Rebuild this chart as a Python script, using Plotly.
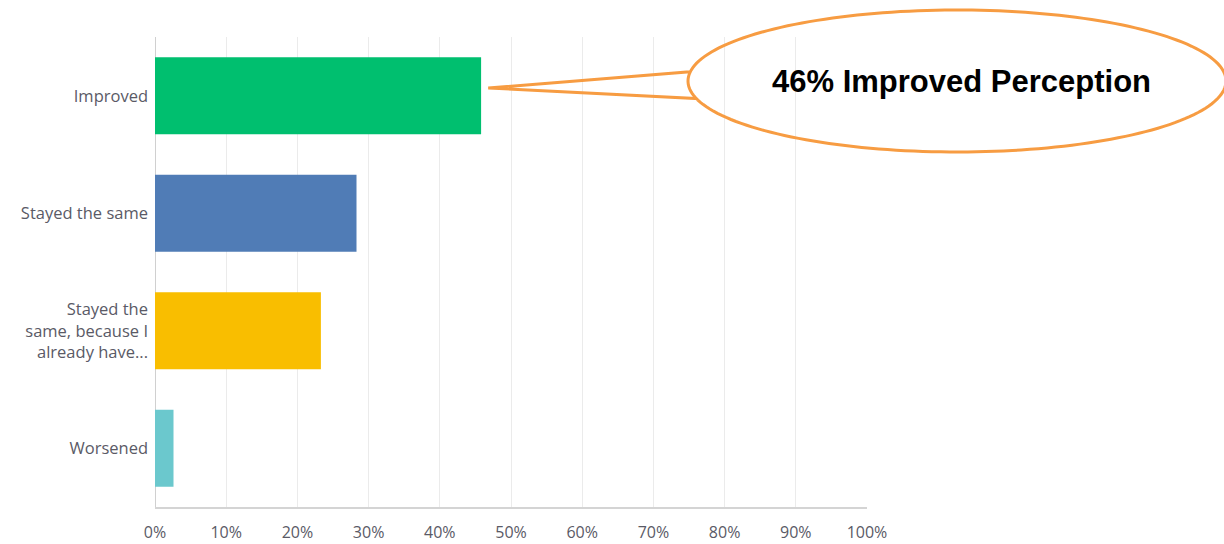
import numpy as np
import plotly.graph_objects as go

categories = ["Improved", "Stayed the same", "Stayed the<br>same, because I<br>already have...", "Worsened"]
values = [45.8, 28.3, 23.3, 2.6]
colors = ["#00BF6F", "#507CB6", "#F9BE00", "#6BC8CD"]
x_ticks = [0, 10, 20, 30, 40, 50, 60, 70, 80, 90, 100]
x_tick_labels = [f"{v}%" for v in x_ticks]
callout_text = "46% Improved Perception"

W, H = 1224, 544
ML, MR, MT, MB = 155, W - 867, 37, 37
PW, PH = W - ML - MR, H - MT - MB

fig = go.Figure(go.Bar(
    x=values, y=categories, orientation="h",
    marker=dict(color=colors, line=dict(width=0)),
    width=0.655, hoverinfo="x+y",
))

def to_paper(px, py):
    return (px - ML) / PW, (H - MB - py) / PH

# callout: ellipse + tail, built in pixel space then mapped to paper coords
cx, cy, rx, ry = 957, 81, 269, 71
tip_px = ML + (values[0] + 1.0) / 100 * PW
tip_py = 88
j1 = (696, 72)
j2 = (703, 98)
a1 = np.arctan2((j1[1] - cy) / ry, (j1[0] - cx) / rx)
a2 = np.arctan2((j2[1] - cy) / ry, (j2[0] - cx) / rx)
if a1 < 0:
    a1 += 2 * np.pi
if a2 < 0:
    a2 += 2 * np.pi
angs = np.linspace(a1, a2 - 2 * np.pi, 200)
pts = [to_paper(cx + rx * np.cos(t), cy + ry * np.sin(t)) for t in angs]
tip = to_paper(tip_px, tip_py)
path = "M {:.5f},{:.5f} ".format(*pts[0]) + " ".join("L {:.5f},{:.5f}".format(*p) for p in pts[1:])
path += " L {:.5f},{:.5f} Z".format(*tip)

fig.add_shape(type="path", xref="paper", yref="paper", path=path,
              line=dict(color="#F79C42", width=3), fillcolor="rgba(0,0,0,0)", layer="above")

tx, ty = to_paper(961, 82)
fig.add_annotation(x=tx, y=ty, xref="paper", yref="paper", text="<b>" + callout_text + "</b>",
                   showarrow=False, font=dict(family="Liberation Sans, Arial", size=31, color="#000000"),
                   xanchor="center", yanchor="middle")

fig.update_layout(
    width=W, height=H,
    margin=dict(l=ML, r=MR, t=MT, b=MB, autoexpand=False),
    plot_bgcolor="white", paper_bgcolor="white",
    showlegend=False,
    bargap=0.345,
    xaxis=dict(range=[0, 100], tickvals=x_ticks, ticktext=x_tick_labels,
               showgrid=True, gridcolor="#ebebeb", gridwidth=1,
               zeroline=False, showline=True, linecolor="#d4d4d4", linewidth=2,
               ticks="", ticklabelstandoff=10, automargin=False,
               tickfont=dict(family="Open Sans", size=16, color="#5a5a66"), fixedrange=True),
    yaxis=dict(categoryorder="array", categoryarray=categories, autorange="reversed",
               showgrid=False, zeroline=False, showline=False, ticks="",
               ticklabelstandoff=6, automargin=False,
               tickfont=dict(family="Open Sans", size=16.5, color="#5a5a66"), fixedrange=True),
)
# left axis line (0%)
fig.add_shape(type="line", xref="x", yref="paper", x0=0, x1=0, y0=0, y1=1,
              line=dict(color="#d0d0d0", width=2), layer="below")

fig.write_html("out.html")
